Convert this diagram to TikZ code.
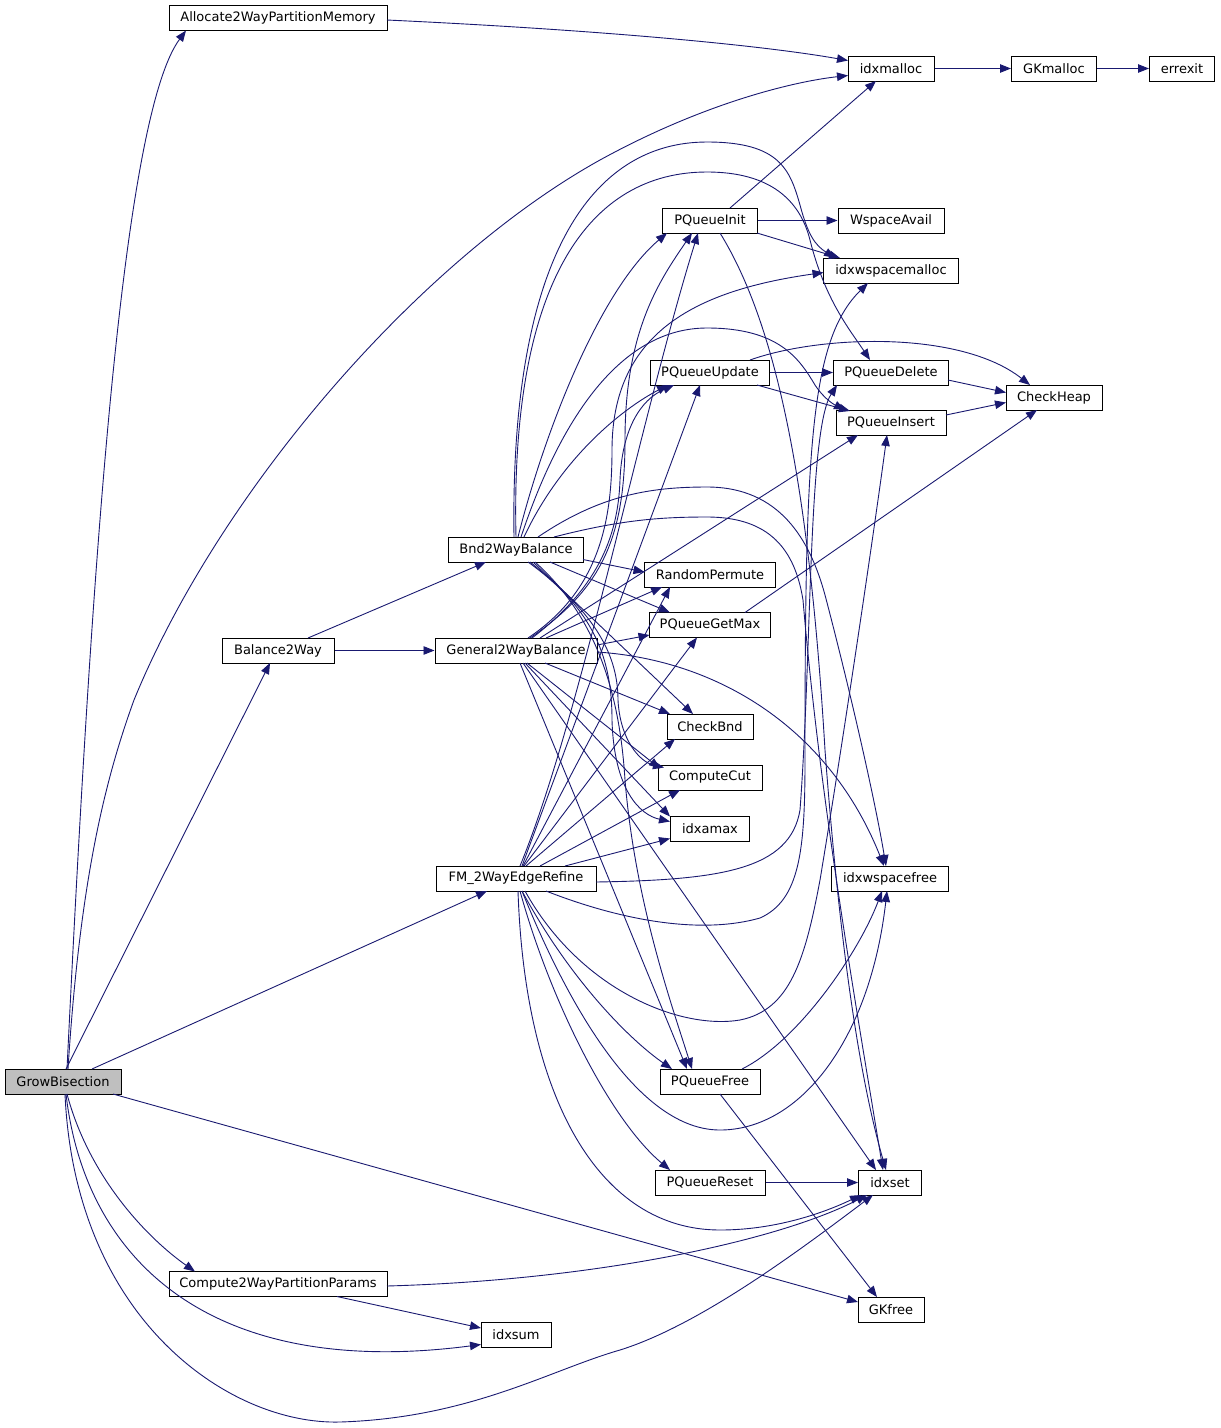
\documentclass[tikz,border=0pt]{standalone}
\usepackage{fontspec}
\setmainfont{DejaVu Sans}
\usetikzlibrary{arrows.meta,calc}
\definecolor{edgec}{HTML}{191970}
\definecolor{rootfill}{HTML}{BFBFBF}
\tikzset{
  fn/.style={draw=black, line width=1pt, fill=white, minimum height=25pt, inner sep=0pt,
    font=\fontsize{13}{15}\selectfont, anchor=center},
  call/.style={draw=edgec, line width=0.9pt, -{Triangle[length=11pt,width=8.5pt]}},
}
\begin{document}
\begin{tikzpicture}[x=1pt,y=-1pt]
\useasboundingbox (0,0) rectangle (1221,1428);
% nodes
\node[fn, fill=rootfill, minimum width=116pt] (gb) at (63,1081.5) {GrowBisection};
\node[fn, minimum width=218pt] (alloc) at (278,17.5) {Allocate2WayPartitionMemory};
\node[fn, minimum width=86pt] (imalloc) at (891,68.5) {idxmalloc};
\node[fn, minimum width=85pt] (gkm) at (1054,68.5) {GKmalloc};
\node[fn, minimum width=65pt] (errx) at (1182,68.5) {errexit};
\node[fn, minimum width=95pt] (pqi) at (710,220.5) {PQueueInit};
\node[fn, minimum width=106pt] (wsa) at (891,220.5) {WspaceAvail};
\node[fn, minimum width=135pt] (iwm) at (891,270.5) {idxwspacemalloc};
\node[fn, minimum width=119pt] (pqu) at (710,372.5) {PQueueUpdate};
\node[fn, minimum width=115pt] (pqd) at (891,372.5) {PQueueDelete};
\node[fn, minimum width=96pt] (chp) at (1054,397.5) {CheckHeap};
\node[fn, minimum width=110pt] (pqins) at (891,422.5) {PQueueInsert};
\node[fn, minimum width=135pt] (bnd) at (516,549.5) {Bnd2WayBalance};
\node[fn, minimum width=131pt] (rp) at (710,574.5) {RandomPermute};
\node[fn, minimum width=121pt] (pqg) at (710,625) {PQueueGetMax};
\node[fn, minimum width=112pt] (bal) at (278,650.5) {Balance2Way};
\node[fn, minimum width=162pt] (gen) at (516,650.5) {General2WayBalance};
\node[fn, minimum width=86pt] (cbnd) at (710,726.5) {CheckBnd};
\node[fn, minimum width=104pt] (ccut) at (710,777.5) {ComputeCut};
\node[fn, minimum width=79pt] (iam) at (710,828.5) {idxamax};
\node[fn, minimum width=160pt] (fm) at (516,878.5) {FM\_2WayEdgeRefine};
\node[fn, minimum width=117pt] (iwf) at (890,878.5) {idxwspacefree};
\node[fn, minimum width=100pt] (pqf) at (710,1081.5) {PQueueFree};
\node[fn, minimum width=110pt] (pqr) at (710,1182.5) {PQueueReset};
\node[fn, minimum width=63pt] (iset) at (890,1182.5) {idxset};
\node[fn, minimum width=218pt] (c2w) at (278,1284) {Compute2WayPartitionParams};
\node[fn, minimum width=66pt] (gkf) at (891,1309.5) {GKfree};
\node[fn, minimum width=70pt] (isum) at (516,1334.5) {idxsum};

% GrowBisection
\draw[call] ($(gb)+(4,-12.5)$) .. controls (90,600) and (120,120) .. ($(alloc)+(-92,13)$);
\draw[call] ($(gb)+(5,-12.5)$) .. controls (80,880) and (105,780) .. (134,700) .. controls (220,490) and (420,260) .. (600,160) .. controls (700,105) and (790,82) .. ($(imalloc)+(-43,7)$);
\draw[call] ($(gb)+(3,-12.5)$) -- ($(bal)+(-8,12.5)$);
\draw[call] ($(gb)+(29,-12.5)$) -- ($(fm)+(-29,12.5)$);
\draw[call] ($(gb)+(50,12.5)$) -- ($(gkf)+(-33,-7.5)$);
\draw[call] ($(gb)+(4,12.5)$) .. controls (90,1180) and (150,1240) .. ($(c2w)+(-83,-12.5)$);
\draw[call] ($(gb)+(3,12.5)$) .. controls (85,1260) and (210,1380) .. ($(isum)+(-35,10)$);
\draw[call] ($(gb)+(2,12.5)$) .. controls (75,1320) and (230,1425) .. (340,1422) .. controls (470,1418) and (550,1370) .. (620,1350) .. controls (700,1325) and (800,1250) .. ($(iset)+(-17,12.5)$);

% misc
\draw[call] ($(alloc)+(109,2.5)$) .. controls (600,30) and (760,45) .. ($(imalloc)+(-43,-8)$);
\draw[call] (imalloc.east) -- (gkm.west);
\draw[call] (gkm.east) -- (errx.west);
\draw[call] ($(pqi)+(20,-12.5)$) -- ($(imalloc)+(-15,12.5)$);
\draw[call] (pqi.east) -- (wsa.west);
\draw[call] ($(pqi)+(47,12.5)$) -- ($(iwm)+(-51,-12.5)$);
\draw[call] ($(pqi)+(10,12.5)$) .. controls (780,330) and (810,500) .. (825,750) .. controls (840,950) and (860,1080) .. ($(iset)+(-4,-12.5)$);
\draw[call] (pqu.east) -- (pqd.west);
\draw[call] ($(pqu)+(47,12.5)$) -- ($(pqins)+(-41,-11.5)$);
\draw[call] ($(pqu)+(40,-12.5)$) .. controls (820,335) and (960,330) .. ($(chp)+(-24,-12.5)$);
\draw[call] ($(pqd)+(57,7.5)$) -- ($(chp)+(-48,-5)$);
\draw[call] ($(pqins)+(55,-7.5)$) -- ($(chp)+(-48,5)$);
\draw[call] ($(pqg)+(35,-12.5)$) -- ($(chp)+(-17,12.5)$);
\draw[call] ($(pqf)+(32,-12.5)$) .. controls (800,1040) and (860,950) .. ($(iwf)+(-8,12.5)$);
\draw[call] ($(pqf)+(10,12.5)$) -- ($(gkf)+(-14,-12.5)$);
\draw[call] (pqr.east) -- (iset.west);
\draw[call] ($(c2w)+(109,2)$) .. controls (600,1280) and (780,1240) .. ($(iset)+(-23,12.5)$);
\draw[call] ($(c2w)+(59,12.5)$) -- ($(isum)+(-35,-6.5)$);
\draw[call] ($(bal)+(30,-12.5)$) -- ($(bnd)+(-30,12.5)$);
\draw[call] (bal.east) -- (gen.west);

% Bnd2WayBalance
\draw[call] ($(bnd)+(-2,-12.5)$) .. controls (510,260) and (590,142) .. (707,142) .. controls (780,142) and (790,170) .. (800,205) .. controls (808,235) and (815,245) .. ($(iwm)+(-56,-12.5)$);
\draw[call] ($(bnd)+(0,-12.5)$) .. controls (510,280) and (590,172) .. (707,172) .. controls (770,172) and (800,200) .. (810,240) .. controls (825,300) and (850,330) .. ($(pqd)+(-21,-12.5)$);
\draw[call] ($(bnd)+(2,-12.5)$) .. controls (545,430) and (600,290) .. ($(pqi)+(-43,12.5)$);
\draw[call] ($(bnd)+(5,-12.5)$) .. controls (560,420) and (620,328) .. (707,328) .. controls (780,328) and (800,360) .. (815,385) .. controls (825,400) and (835,405) .. ($(pqins)+(-46,-12.5)$);
\draw[call] ($(bnd)+(8,-12.5)$) .. controls (560,460) and (620,410) .. ($(pqu)+(-42,12.5)$);
\draw[call] ($(bnd)+(22,-12.5)$) .. controls (600,495) and (650,487) .. (707,487) .. controls (780,487) and (810,540) .. (825,595) .. controls (850,690) and (875,800) .. ($(iwf)+(-4,-12.5)$);
\draw[call] ($(bnd)+(38,-12.5)$) .. controls (620,520) and (660,517) .. (707,517) .. controls (770,517) and (795,550) .. (803,600) .. controls (820,800) and (855,1000) .. ($(iset)+(-7,-12.5)$);
\draw[call] ($(bnd)+(67,10)$) -- ($(rp)+(-65.5,-2.5)$);
\draw[call] ($(bnd)+(34,12.5)$) -- ($(pqg)+(-40,-12.5)$);
\draw[call] ($(bnd)+(17,12.5)$) -- ($(cbnd)+(-17,-12.5)$);
\draw[call] ($(bnd)+(14,12.5)$) .. controls (590,610) and (618,650) .. (618,700) .. controls (620,740) and (640,762) .. ($(ccut)+(-46,-10)$);
\draw[call] ($(bnd)+(12,12.5)$) .. controls (595,610) and (612,660) .. (612,720) .. controls (614,790) and (640,815) .. ($(iam)+(-40,-7)$);
\draw[call] ($(bnd)+(19,12.5)$) .. controls (600,620) and (620,700) .. (625,780) .. controls (635,900) and (670,1000) .. ($(pqf)+(-18,-12.5)$);

% General2WayBalance
\draw[call] ($(gen)+(14,-12.5)$) .. controls (600,590) and (625,540) .. (625,440) .. controls (625,330) and (660,280) .. ($(pqi)+(-18,12.5)$);
\draw[call] ($(gen)+(16,-12.5)$) .. controls (595,590) and (618,540) .. (620,480) .. controls (622,430) and (640,400) .. ($(pqu)+(-36,12.5)$);
\draw[call] ($(gen)+(12,-12.5)$) .. controls (600,590) and (612,520) .. (612,450) .. controls (612,330) and (700,290) .. ($(iwm)+(-67.5,2)$);
\draw[call] ($(gen)+(24,-12.5)$) -- ($(pqins)+(-33,12.5)$);
\draw[call] ($(gen)+(30,-12.5)$) -- ($(rp)+(-48,12.5)$);
\draw[call] ($(gen)+(81,-5.5)$) -- ($(pqg)+(-60.5,10)$);
\draw[call] ($(gen)+(29,12.5)$) -- ($(cbnd)+(-40,-12.5)$);
\draw[call] ($(gen)+(11,12.5)$) -- ($(ccut)+(-50,-9)$);
\draw[call] ($(gen)+(9,12.5)$) -- ($(iam)+(-40,-12)$);
\draw[call] ($(gen)+(81,1.5)$) .. controls (720,660) and (830,730) .. ($(iwf)+(-6,-12.5)$);
\draw[call] ($(gen)+(4,12.5)$) -- ($(pqf)+(-23,-12.5)$);
\draw[call] ($(gen)+(7,12.5)$) -- ($(iset)+(-14,-12.5)$);

% FM_2WayEdgeRefine
\draw[call] ($(fm)+(4,-12.5)$) .. controls (580,720) and (640,420) .. ($(pqi)+(-12,12.5)$);
\draw[call] ($(fm)+(6,-12.5)$) -- ($(pqu)+(-10,12.5)$);
\draw[call] ($(fm)+(7,-12.5)$) -- ($(rp)+(-40,12.5)$);
\draw[call] ($(fm)+(8,-12.5)$) -- ($(pqg)+(-13,12.5)$);
\draw[call] ($(fm)+(10,-12.5)$) -- ($(cbnd)+(-35,12.5)$);
\draw[call] ($(fm)+(24,-12.5)$) -- ($(ccut)+(-30,12.5)$);
\draw[call] ($(fm)+(49,-12.5)$) -- ($(iam)+(-40,10)$);
\draw[call] ($(fm)+(80,3.5)$) .. controls (720,880) and (790,870) .. (800,810) .. controls (812,650) and (808,430) .. ($(pqd)+(-54,12.5)$);
\draw[call] ($(fm)+(30,12.5)$) .. controls (620,920) and (700,935) .. (760,918) .. controls (800,900) and (805,850) .. (805,760) .. controls (805,450) and (810,340) .. ($(iwm)+(-23,12.5)$);
\draw[call] ($(fm)+(9,12.5)$) .. controls (580,990) and (680,1030) .. (740,1020) .. controls (790,1010) and (805,960) .. (820,880) .. controls (840,760) and (870,560) .. ($(pqins)+(-4,12.5)$);
\draw[call] ($(fm)+(6,12.5)$) .. controls (570,1010) and (640,1130) .. (720,1130) .. controls (800,1130) and (870,1040) .. ($(iwf)+(-3,12.5)$);
\draw[call] ($(fm)+(6,12.5)$) .. controls (570,980) and (630,1040) .. ($(pqf)+(-38,-12.5)$);
\draw[call] ($(fm)+(4,12.5)$) .. controls (550,1000) and (610,1120) .. ($(pqr)+(-40,-12.5)$);
\draw[call] ($(fm)+(2,12.5)$) .. controls (525,1100) and (600,1230) .. (720,1230) .. controls (780,1230) and (830,1210) .. ($(iset)+(-29,12.5)$);
\end{tikzpicture}
\end{document}
